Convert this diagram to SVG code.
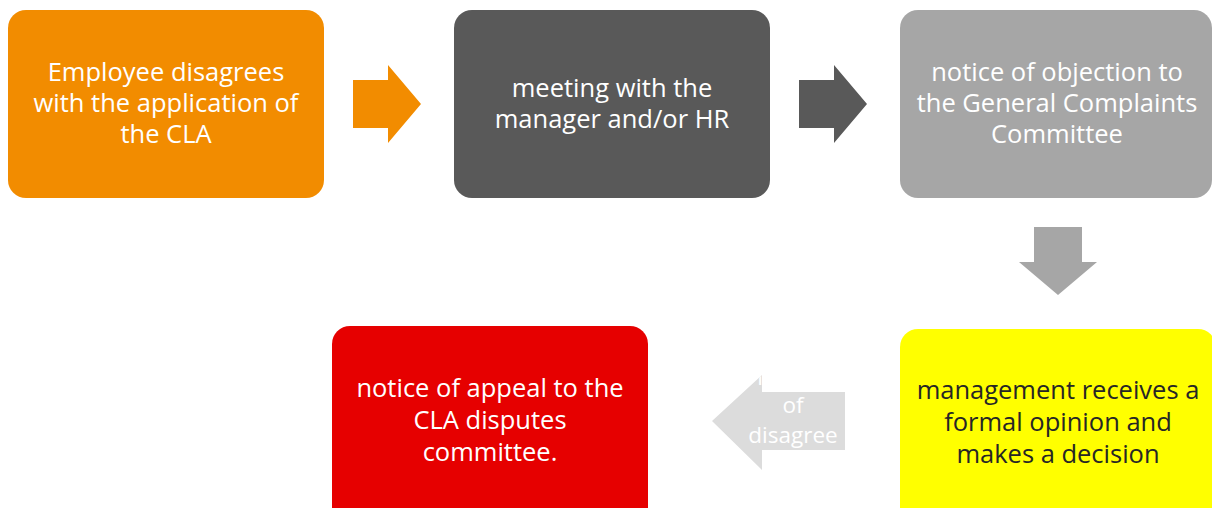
<svg xmlns="http://www.w3.org/2000/svg" width="1212" height="508" viewBox="0 0 1212 508">
<style>
.box{stroke:none}
.t{font-family:"Open Sans","Noto Sans",sans-serif;font-size:25.5px;text-anchor:middle}
.s{font-size:22.5px}
.w{fill:#ffffff}
.d{fill:#262626}
</style>
<defs>
<clipPath id="leftclip"><polygon points="712,421 762,375 762,392 845,392 845,450 762,450 762,470"/></clipPath>
</defs>
<rect width="1212" height="508" fill="#ffffff"/>
<g id="connectors">
<polygon points="353,80 388,80 388,65 421,104 388,143 388,128 353,128" fill="#f28c00"/>
<polygon points="799,80 834,80 834,65 867,104 834,143 834,128 799,128" fill="#595959"/>
<polygon points="1034,227 1082,227 1082,262 1097,262 1058,295 1019,262 1034,262" fill="#a6a6a6"/>
<g id="arrow-label">
<polygon points="712,421 762,375 762,392 845,392 845,450 762,450 762,470" fill="#dcdcdc"/>
<g clip-path="url(#leftclip)">
<text class="t s w" x="760" y="385">l</text>
<text class="t s w" x="793" y="413">of</text>
<text class="t s w" x="793" y="443">disagree</text>
</g>
</g>
</g>
<g id="node1">
<rect class="box" x="8" y="10" width="316" height="188" rx="18" fill="#f28c00"/>
<text class="t w" x="166" y="81">Employee disagrees</text>
<text class="t w" x="166" y="112">with the application of</text>
<text class="t w" x="166" y="143">the CLA</text>
</g>
<g id="node2">
<rect class="box" x="454" y="10" width="316" height="188" rx="18" fill="#595959"/>
<text class="t w" x="612" y="97">meeting with the</text>
<text class="t w" x="612" y="128">manager and/or HR</text>
</g>
<g id="node3">
<rect class="box" x="900" y="10" width="312" height="188" rx="18" fill="#a6a6a6"/>
<text class="t w" x="1057" y="81">notice of objection to</text>
<text class="t w" x="1057" y="112">the General Complaints</text>
<text class="t w" x="1057" y="143">Committee</text>
</g>
<g id="node4">
<rect class="box" x="900" y="329" width="316" height="200" rx="18" fill="#ffff00"/>
<text class="t d" x="1058" y="399">management receives a</text>
<text class="t d" x="1058" y="431">formal opinion and</text>
<text class="t d" x="1058" y="463">makes a decision</text>
</g>
<g id="node5">
<rect class="box" x="332" y="326" width="316" height="200" rx="18" fill="#e60000"/>
<text class="t w" x="490" y="397">notice of appeal to the</text>
<text class="t w" x="490" y="429">CLA disputes</text>
<text class="t w" x="490" y="461">committee.</text>
</g>
</svg>
